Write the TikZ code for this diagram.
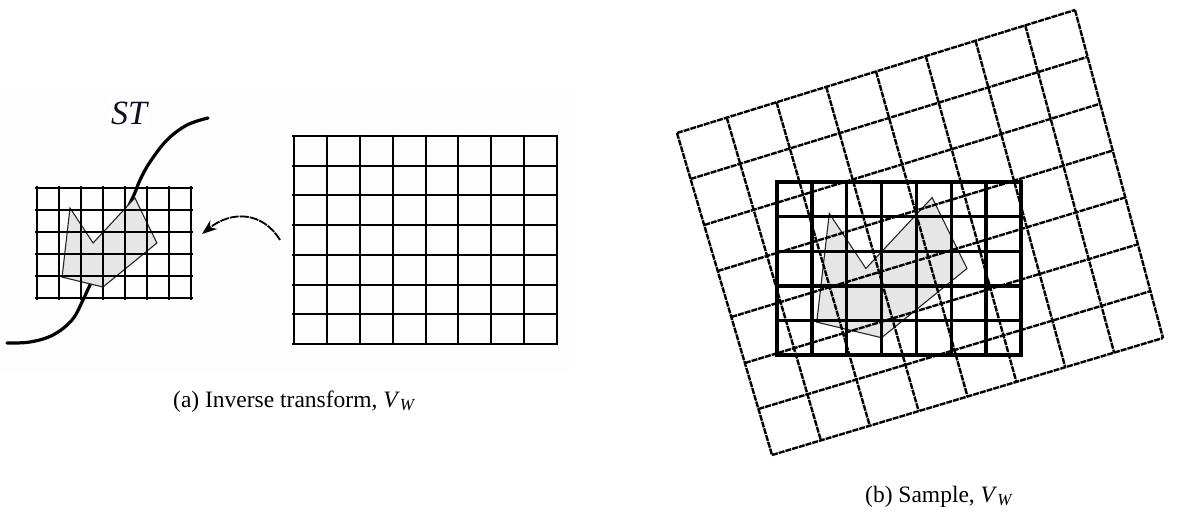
\documentclass[tikz,border=0pt]{standalone}
\usepackage{fontspec}
\setmainfont{Liberation Serif}
\usepackage{graphicx}
\usetikzlibrary{arrows.meta}
\definecolor{panelbg}{RGB}{253,253,253}
\definecolor{polyfill}{RGB}{230,230,230}
\definecolor{stcol}{RGB}{15,15,35}
\newcommand{\myVW}{\textit{V}\raisebox{-0.35ex}{\scalebox{0.72}{\textit{W}}}}
\begin{document}
\begin{tikzpicture}[x=1pt,y=-1pt,
  thingrid/.style={line width=2pt, black},
  thickgrid/.style={line width=3.4pt, black},
  rotgrid/.style={line width=2.4pt, black, dash pattern=on 6pt off 1pt},
  stcurve/.style={line width=3.2pt, black, line cap=round},
  polyshape/.style={fill=polyfill, draw=black!85, line width=1.1pt, line join=miter},
  arrowline/.style={line width=1.8pt, black, dash pattern=on 9pt off 1pt, -{Stealth[length=15pt,width=11pt]}},
  caption/.style={font=\fontsize{23.5}{28}\selectfont, inner sep=0pt, anchor=base west}]
\useasboundingbox (0,0) rectangle (1177,513);
% faint background of panel (a)
\fill[panelbg] (0,88) rectangle (570,372);
% ST curve
\draw[stcurve] plot[smooth, tension=0.6] coordinates {(208,118) (187,125) (167,140) (150,162) (140,180) (133,197) (112,240) (90,285) (83,300) (72,320) (53,335) (30,342) (7,343)};
\node[fill=white, inner sep=2pt, text=stcol, font=\fontsize{34}{38}\selectfont\itshape] (st) at (129,113) {ST};
% polygon (a)
\begin{scope}[shift={(37,188)}, x=22pt, y=-22pt]
  \draw[polyshape] (1.5,0.91) -- (2.55,2.5) -- (4.45,0.45) -- (5.45,2.5) -- (3.0,4.5) -- (1.14,4.05) -- cycle;
\end{scope}
% small grid (a)
\foreach \i in {0,...,7} \draw[thingrid] ({37+\i*22},186) -- ({37+\i*22},300);
\foreach \j in {0,...,5} \draw[thingrid] (35,{188+\j*22}) -- (193,{188+\j*22});
% large grid (a)
\foreach \i in {0,...,8} \draw[thingrid] ({294+\i*32.875},135) -- ({294+\i*32.875},345);
\foreach \j in {0,...,7} \draw[thingrid] (292,{136+\j*29.714}) -- (558,{136+\j*29.714});
% arrow
\coordinate (arrS) at (280,240);
\coordinate (arrE) at (202,234);
\draw[arrowline] (arrS) .. controls (263,212) and (232,210) .. (arrE);
% caption (a)
\node[caption] (capa) at (173,407) {(a) Inverse transform, \myVW};
% polygon (b)
\begin{scope}[shift={(777,182)}, x=34.86pt, y=-34.6pt]
  \draw[polyshape] (1.5,0.91) -- (2.55,2.5) -- (4.45,0.45) -- (5.45,2.5) -- (3.0,4.5) -- (1.14,4.05) -- cycle;
\end{scope}
% rotated grid (b)
\foreach \i in {0,...,8} \draw[rotgrid] ({677+\i*(1075-677)/8},{133+\i*(10-133)/8}) -- ({772+\i*(1163-772)/8},{455+\i*(338-455)/8});
\foreach \j in {0,...,7} \draw[rotgrid] ({677+\j*(772-677)/7},{133+\j*(455-133)/7}) -- ({1075+\j*(1163-1075)/7},{10+\j*(338-10)/7});
% thick grid (b)
\foreach \i in {0,...,7} \draw[thickgrid] ({777+\i*34.86},180) -- ({777+\i*34.86},357);
\foreach \j in {0,...,5} \draw[thickgrid] (775,{182+\j*34.6}) -- (1023,{182+\j*34.6});
% caption (b)
\node[caption] (capb) at (865,502) {(b) Sample, \myVW};
\end{tikzpicture}
\end{document}
